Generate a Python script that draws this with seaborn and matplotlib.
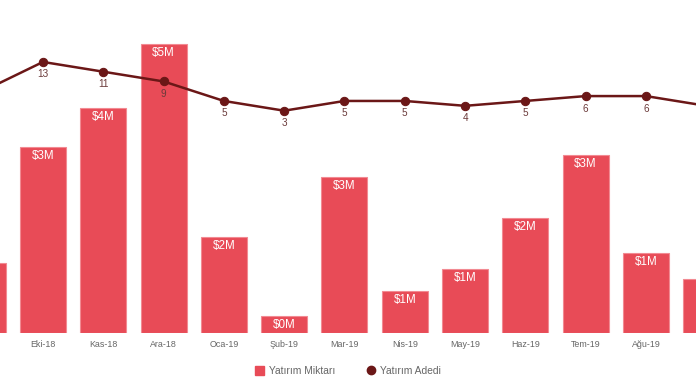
import numpy as np
import pandas as pd
import matplotlib
matplotlib.use("Agg")
import matplotlib.pyplot as plt
import seaborn as sns
from matplotlib.patches import Patch
from matplotlib.lines import Line2D

sns.set_style("white")
plt.rcParams['font.family'] = ['Liberation Sans', 'DejaVu Sans']

months = ["Eyl-18", "Eki-18", "Kas-18", "Ara-18", "Oca-19", "Şub-19", "Mar-19",
          "Nis-19", "May-19", "Haz-19", "Tem-19", "Ağu-19", "Eyl-19"]
amount_musd = [1.13, 3.00, 3.63, 4.66, 1.55, 0.27, 2.52, 0.68, 1.03, 1.85, 2.87, 1.29, 0.87]
deal_count = [7, 13, 11, 9, 5, 3, 5, 5, 4, 5, 6, 6, 4]

BAR = "#E84B57"
LINE = "#6B1717"

df = pd.DataFrame({"month": months, "amount": amount_musd, "count": deal_count})
df["pos"] = np.arange(len(df))

fig = plt.figure(figsize=(6.96, 3.85), dpi=100)
ax = fig.add_axes([0, 0.135, 1, 0.813])

sns.barplot(data=df, x="month", y="amount", color=BAR, saturation=1,
            width=0.763, edgecolor="#F28A92", linewidth=0.8, ax=ax)

for i, v in enumerate(amount_musd):
    ax.annotate(f"${v:.0f}M", (i, v), xytext=(0, -6.5), textcoords="offset points",
                ha="center", va="center", color="white", fontsize=8.4, clip_on=True)

ax.set_xlim(0.287, 11.83)
ax.set_ylim(0, 5.05)
ax.set_xlabel("")
ax.set_ylabel("")
ax.set_yticks([])
ax.tick_params(axis="x", length=0, pad=5, labelsize=6.4, labelcolor="#666666")
for s in ax.spines.values():
    s.set_visible(False)

ax2 = ax.twinx()
sns.lineplot(data=df, x="pos", y="count", color=LINE, linewidth=1.8, marker="o",
             markersize=6, markeredgecolor=LINE, ax=ax2)
for i, c in enumerate(deal_count):
    ax2.annotate(str(c), (i, c), xytext=(0, -9), textcoords="offset points",
                 ha="center", va="center", color="#6B3A3A", fontsize=7.2)
ax2.set_ylim(-42.6, 21.6)
ax2.set_xlim(0.287, 11.83)
ax2.set_yticks([])
ax2.set_xlabel("")
ax2.set_ylabel("")
for s in ax2.spines.values():
    s.set_visible(False)

handles = [Patch(facecolor=BAR, edgecolor=BAR),
           Line2D([0], [0], color=LINE, marker="o", markersize=6, linewidth=0)]
fig.legend(handles, ["Yatırım Miktarı", "Yatırım Adedi"], loc="center",
           bbox_to_anchor=(0.5, 0.036), ncol=2, frameon=False, fontsize=7.4,
           handlelength=0.9, handleheight=0.9, columnspacing=3.0, handletextpad=0.5,
           labelcolor="#666666")

fig.savefig("out.png", dpi=100)
